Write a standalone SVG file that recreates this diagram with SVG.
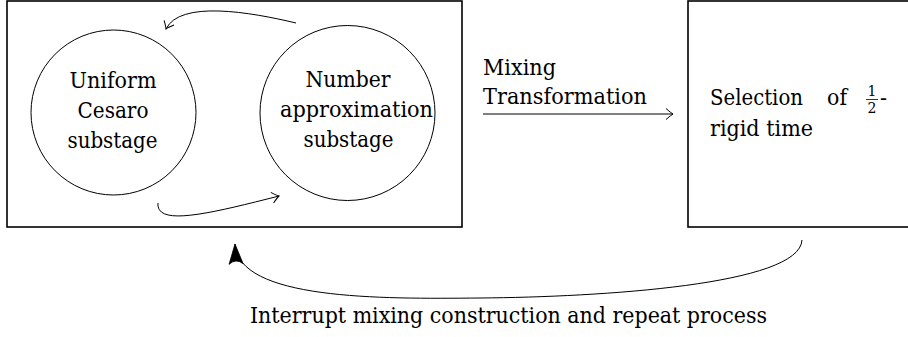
<svg xmlns="http://www.w3.org/2000/svg" width="908" height="337" viewBox="0 0 908 337">
<style>
text{font-size:22px;fill:#000}
.box{fill:none;stroke:#000;stroke-width:1.6}
.circ{fill:none;stroke:#000;stroke-width:1}
.conn{fill:none;stroke:#000;stroke-width:1}
.frac{font-size:14px}
</style>
<defs>
<marker id="to" markerUnits="userSpaceOnUse" markerWidth="20" markerHeight="20" viewBox="-10 -10 20 20" refX="0" refY="0" orient="auto" overflow="visible">
<path d="M-7,-5.5 Q-2,-1 0,0 Q-2,1 -7,5.5" fill="none" stroke="#000" stroke-width="1"/>
</marker>
<marker id="stealth" markerUnits="userSpaceOnUse" markerWidth="30" markerHeight="30" viewBox="-25 -15 30 30" refX="0" refY="0" orient="auto" overflow="visible">
<path d="M0,0 L-20,-7 Q-14,0 -20,7 Z" fill="#000" stroke="#000" stroke-width="0.8" stroke-linejoin="miter"/>
</marker>
</defs>

<g id="stage-box">
<rect class="box" x="7" y="1" width="455" height="226"/>
</g>

<g id="uniform-cesaro" font-family="DejaVu Serif, serif">
<circle class="circ" cx="113.5" cy="112.5" r="82.5"/>
<text x="113" y="88" text-anchor="middle" textLength="87" lengthAdjust="spacingAndGlyphs">Uniform</text>
<text x="113" y="118" text-anchor="middle" textLength="71" lengthAdjust="spacingAndGlyphs">Cesaro</text>
<text x="112.5" y="148" text-anchor="middle" textLength="90" lengthAdjust="spacingAndGlyphs">substage</text>
</g>

<g id="number-approximation" font-family="DejaVu Serif, serif">
<circle class="circ" cx="347.5" cy="113" r="87.5"/>
<text x="348" y="87" text-anchor="middle" textLength="85" lengthAdjust="spacingAndGlyphs">Number</text>
<text x="280" y="117" textLength="153" lengthAdjust="spacingAndGlyphs">approximation</text>
<text x="348.5" y="147" text-anchor="middle" textLength="90" lengthAdjust="spacingAndGlyphs">substage</text>
</g>

<g id="selection-box" font-family="DejaVu Serif, serif">
<rect class="box" x="688" y="1" width="240" height="226"/>
<text x="710" y="105" textLength="93" lengthAdjust="spacingAndGlyphs">Selection</text>
<text x="827" y="105" textLength="20" lengthAdjust="spacingAndGlyphs">of</text>
<text class="frac" x="872" y="96" text-anchor="middle">1</text>
<line x1="866" y1="99.5" x2="878" y2="99.5" stroke="#000" stroke-width="0.8"/>
<text class="frac" x="872" y="112.5" text-anchor="middle">2</text>
<text x="880" y="105" textLength="7" lengthAdjust="spacingAndGlyphs">-</text>
<text x="710" y="136" textLength="103" lengthAdjust="spacingAndGlyphs">rigid time</text>
</g>

<g id="connectors" font-family="DejaVu Serif, serif">
<path class="conn" d="M296,23 C250,12 180,0 166,29" marker-end="url(#to)"/>
<path class="conn" d="M158,203 C156,226 205,215 279,196" marker-end="url(#to)"/>
<line class="conn" x1="483" y1="114" x2="673" y2="114" stroke="#555" marker-end="url(#to)"/>
<text x="483" y="75" textLength="73" lengthAdjust="spacingAndGlyphs">Mixing</text>
<text x="483" y="104" textLength="164" lengthAdjust="spacingAndGlyphs">Transformation</text>
<path class="conn" d="M802,240 C800,285 600,297 480,298 C380,299 238,300 235,244" marker-end="url(#stealth)"/>
<text x="250" y="323" textLength="517" lengthAdjust="spacingAndGlyphs">Interrupt mixing construction and repeat process</text>
</g>
</svg>
